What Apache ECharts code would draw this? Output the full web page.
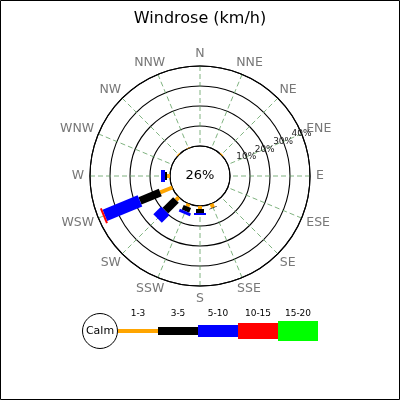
<!DOCTYPE html>
<html>
<head>
<meta charset="utf-8">
<script src="https://cdn.jsdelivr.net/npm/echarts@6/dist/echarts.min.js"></script>
<style>html,body{margin:0;padding:0;background:#fff}#c{width:400px;height:400px}</style>
</head>
<body>
<div id="c"></div>
<script>
// ---- data (percent of observations) ----
const directions = ['N','NNE','NE','ENE','E','ESE','SE','SSE','S','SSW','SW','WSW','W','WNW','NW','NNW'];
const speedClasses = ['1-3','3-5','5-10','10-15','15-20'];
const calmPct = 26;
const s1_3   = [0, 0, 0.5, 0, 0, 0, 0, 2,   1.5, 1.5, 2,   6.5, 1.5, 0, 0.5, 0.3];
const s3_5   = [0, 0, 0,   0, 0, 0, 0, 0.3, 2,   2.5, 7.5, 11,  1,   0, 0,   0];
const s5_10  = [0, 0, 0,   0, 0, 0, 0, 0,   1,   1.5, 5.5, 19,  2,   0, 0,   0];
const s10_15 = [0, 0, 0,   0, 0, 0, 0, 0,   0,   0,   0,   1,   0,   0, 0,   0];
const s15_20 = [0, 0, 0,   0, 0, 0, 0, 0,   0,   0,   0,   0,   0,   0, 0,   0];
const radiusMax = 40;
const radiusStep = 10;

// ---- styles ----
const classSeries = [s1_3, s3_5, s5_10, s10_15, s15_20];
const colors = ['#FFA500', '#000000', '#0000FF', '#FF0000', '#00FF00'];
const widths = [4, 8, 12, 16, 20];
const FONT = 'DejaVu Sans';
const CX = 200, CY = 176, R0 = 30, R1 = 110;
const SECTOR = 360 / directions.length;
const DIR_FONT = 12.5, DIR_H = 13;

const cum = directions.map(() => 0);
const series = classSeries.map((vals, k) => {
  const data = [];
  vals.forEach((v, i) => {
    if (v > 0) data.push([i * SECTOR, cum[i], cum[i] + v]);
    cum[i] += v;
  });
  return {
    type: 'custom',
    name: speedClasses[k],
    coordinateSystem: 'polar',
    polarIndex: 0,
    encode: { angle: 0, radius: [1, 2] },
    z: 5,
    data: data,
    renderItem: function (params, api) {
      const ang = api.value(0), a = api.value(1), b = api.value(2);
      const p0 = api.coord([a, ang]);
      const p1 = api.coord([b, ang]);
      const cs = params.coordSys;
      let dx = p1[0] - cs.cx, dy = p1[1] - cs.cy;
      const len = Math.hypot(dx, dy);
      dx /= len; dy /= len;
      const nx = -dy * widths[k] / 2, ny = dx * widths[k] / 2;
      return {
        type: 'polygon',
        shape: { points: [
          [p0[0] + nx, p0[1] + ny], [p1[0] + nx, p1[1] + ny],
          [p1[0] - nx, p1[1] - ny], [p0[0] - nx, p0[1] - ny]
        ] },
        style: { fill: colors[k], stroke: null }
      };
    }
  };
});

// direction labels: smooth anchoring (pull side-aligned labels back toward the spoke)
const mctx = document.createElement('canvas').getContext('2d');
mctx.font = DIR_FONT + 'px "' + FONT + '"';
const dirRich = {};
directions.forEach((name, i) => {
  const th = i * SECTOR * Math.PI / 180;
  const ux = Math.sin(th), uy = -Math.cos(th);
  const w = mctx.measureText(name).width;
  const pad = [0, 0, 0, 0];
  if (Math.abs(ux) > 0.01) {
    const back = -(1 - Math.abs(ux)) * w / 2;
    if (ux > 0) pad[3] = back; else pad[1] = back;
  }
  if (Math.abs(uy) > 0.01) {
    const back = -(1 - Math.abs(uy)) * DIR_H / 2;
    if (uy > 0) pad[0] = back; else pad[2] = back;
  }
  dirRich['d' + i] = { padding: pad, color: '#777', fontFamily: FONT, fontSize: DIR_FONT };
});

// legend graphics
const legendEls = [];
const LX = 118, LY = 331, SEG = 40;
legendEls.push({ type: 'circle', shape: { cx: 100, cy: LY, r: 17.5 }, style: { fill: '#fff', stroke: '#000', lineWidth: 1 }, z: 10 });
legendEls.push({ type: 'text', x: 100, y: LY, style: { text: 'Calm', font: '11px "' + FONT + '"', fill: '#000', align: 'center', verticalAlign: 'middle' }, z: 11 });
speedClasses.forEach((name, k) => {
  legendEls.push({ type: 'rect', shape: { x: LX + k * SEG, y: LY - widths[k] / 2, width: SEG, height: widths[k] }, style: { fill: colors[k] }, z: 10 });
  legendEls.push({ type: 'text', x: LX + k * SEG + SEG / 2, y: 314, style: { text: name, font: '9px "' + FONT + '"', fill: '#000', align: 'center', verticalAlign: 'middle' }, z: 11 });
});
legendEls.push({ type: 'text', x: CX, y: CY, style: { text: calmPct + '%', font: '13px "' + FONT + '"', fill: '#000', align: 'center', verticalAlign: 'middle' }, z: 11 });
legendEls.push({ type: 'rect', shape: { x: 0.5, y: 0.5, width: 399, height: 399 }, style: { fill: 'none', stroke: '#000', lineWidth: 1 }, z: 20 });

// ring label axes (two interleaved so neighbouring labels are never auto-hidden)
function ringLabelAxis(polarIndex, parity) {
  return {
    polarIndex: polarIndex, type: 'value', min: 0, max: radiusMax, interval: radiusStep,
    axisLine: { show: false }, axisTick: { show: false }, splitLine: { show: false },
    z: 12,
    axisLabel: {
      show: true, margin: 0, color: '#222', fontFamily: FONT, fontSize: 9,
      align: 'center', verticalAlign: 'middle', showMinLabel: true, showMaxLabel: true,
      formatter: v => (v > 0 && Math.round(v / radiusStep) % 2 === parity ? v + '%' : '')
    }
  };
}

const chart = echarts.init(document.getElementById('c'), null, { renderer: 'canvas' });
chart.setOption({
  animation: false,
  backgroundColor: '#fff',
  title: {
    text: 'Windrose (km/h)', left: 'center', top: 6,
    textStyle: { fontFamily: FONT, fontSize: 16, fontWeight: 'normal', color: '#000' }
  },
  polar: [
    { center: [CX, CY], radius: [R0, R1] },
    { center: [CX, CY], radius: [R0, R1] },
    { center: [CX, CY], radius: [R0, R1] }
  ],
  angleAxis: [
    {
      polarIndex: 0, type: 'value', min: 0, max: 360, interval: SECTOR,
      startAngle: 90, clockwise: true,
      axisLine: { show: true, lineStyle: { color: '#000', width: 1.1 } },
      axisTick: { show: false },
      axisLabel: {
        show: true, margin: 6, color: '#777', fontFamily: FONT, fontSize: DIR_FONT,
        formatter: v => {
          const i = Math.round(v / SECTOR) % directions.length;
          return '{d' + i + '|' + directions[i] + '}';
        },
        rich: dirRich
      },
      splitLine: { show: true, lineStyle: { color: '#5f9f5f', width: 0.8, type: [5, 3] } }
    },
    { polarIndex: 1, type: 'value', min: 0, max: 360, startAngle: 22.5, show: false },
    { polarIndex: 2, type: 'value', min: 0, max: 360, startAngle: 22.5, show: false }
  ],
  radiusAxis: [
    {
      polarIndex: 0, type: 'value', min: 0, max: radiusMax, interval: radiusStep,
      axisLine: { show: false }, axisTick: { show: false }, axisLabel: { show: false },
      splitLine: { show: true, lineStyle: { color: '#000', width: 1.1 } }
    },
    ringLabelAxis(1, 1),
    ringLabelAxis(2, 0)
  ],
  graphic: { elements: legendEls },
  series: series
});
</script>
</body>
</html>
